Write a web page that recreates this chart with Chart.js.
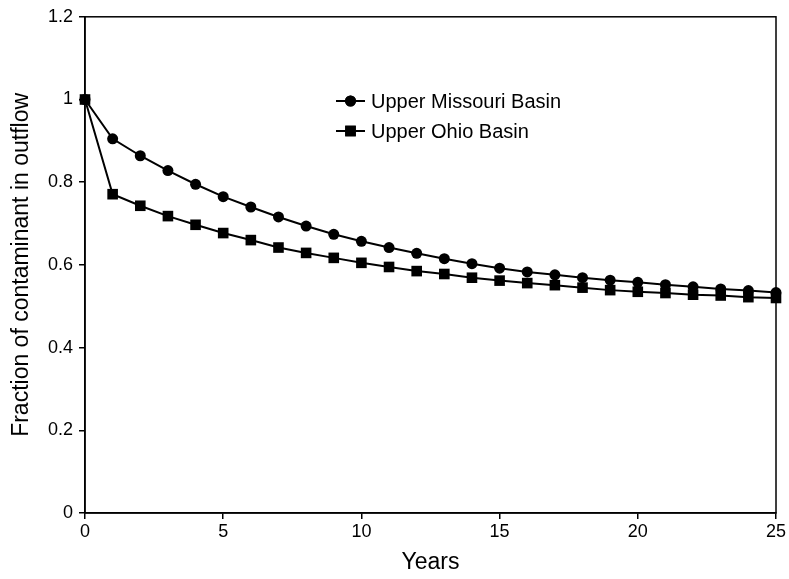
<!DOCTYPE html>
<html>
<head>
<meta charset="utf-8">
<script src="https://cdn.jsdelivr.net/npm/chart.js@4"></script>
<style>
  html, body { margin: 0; padding: 0; background: #fff; }
  #wrap { width: 789px; height: 579px; }
</style>
</head>
<body>
<div id="wrap"><canvas id="chart" width="789" height="579"></canvas></div>
<script>
// ---- data ----
const years = [0, 1, 2, 3, 4, 5, 6, 7, 8, 9, 10, 11, 12, 13, 14, 15, 16, 17, 18, 19, 20, 21, 22, 23, 24, 25];
const missouri = [1, 0.905, 0.864, 0.828, 0.795, 0.765, 0.740, 0.716, 0.694, 0.674, 0.657, 0.642, 0.628,
  0.615, 0.603, 0.592, 0.583, 0.576, 0.569, 0.563, 0.558, 0.552, 0.547, 0.542, 0.538, 0.533];
const ohio = [1, 0.771, 0.743, 0.718, 0.697, 0.677, 0.660, 0.642, 0.629, 0.617, 0.605, 0.595, 0.585,
  0.578, 0.569, 0.562, 0.556, 0.551, 0.545, 0.539, 0.535, 0.532, 0.528, 0.526, 0.522, 0.520];
const seriesLabels = ['Upper Missouri Basin', 'Upper Ohio Basin'];
const xTickLabels = ['0', '5', '10', '15', '20', '25'];
const yTickLabels = ['0', '0.2', '0.4', '0.6', '0.8', '1', '1.2'];

const FONT = "'Liberation Sans', Arial, sans-serif";

// box round the plot area (top + right edges)
const frame = {
  id: 'frame',
  beforeDatasetsDraw(chart) {
    const { ctx, chartArea: a } = chart;
    ctx.save();
    ctx.strokeStyle = '#000';
    ctx.lineWidth = 1.5;
    ctx.strokeRect(a.left, a.top, a.right - a.left, a.bottom - a.top);
    ctx.restore();
  }
};

// legend drawn inside the plot, like the original
const insideLegend = {
  id: 'insideLegend',
  afterDatasetsDraw(chart) {
    const { ctx } = chart;
    const x0 = 336, x1 = 365, tx = 371;
    const rows = [101, 131];
    ctx.save();
    chart.data.datasets.forEach((ds, i) => {
      const y = rows[i];
      ctx.strokeStyle = '#000';
      ctx.lineWidth = 2;
      ctx.beginPath();
      ctx.moveTo(x0, y);
      ctx.lineTo(x1, y);
      ctx.stroke();
      ctx.fillStyle = '#000';
      Chart.helpers.drawPoint(ctx, { pointStyle: ds.pointStyle, radius: ds.pointRadius, borderWidth: 0 }, (x0 + x1) / 2, y);
      ctx.fill();
      ctx.font = '20px ' + FONT;
      ctx.textBaseline = 'middle';
      ctx.fillText(ds.label, tx, y + 1);
    });
    ctx.restore();
  }
};

const ctx = document.getElementById('chart').getContext('2d');
new Chart(ctx, {
  type: 'line',
  data: {
    labels: years,
    datasets: [
      {
        label: seriesLabels[0],
        data: years.map((x, i) => ({ x, y: missouri[i] })),
        borderColor: '#000',
        backgroundColor: '#000',
        borderWidth: 2,
        pointStyle: 'circle',
        pointRadius: 5.5,
        pointBorderWidth: 0,
        tension: 0,
        clip: false,
      },
      {
        label: seriesLabels[1],
        data: years.map((x, i) => ({ x, y: ohio[i] })),
        borderColor: '#000',
        backgroundColor: '#000',
        borderWidth: 2,
        pointStyle: 'rect',
        pointRadius: 7.5,
        pointBorderWidth: 0,
        tension: 0,
        clip: false,
      }
    ]
  },
  options: {
    responsive: false,
    animation: false,
    layout: { padding: { left: 0, right: 13, top: 13, bottom: 0 } },
    scales: {
      x: {
        type: 'linear',
        min: 0,
        max: 25,
        afterFit: s => { s.height = 66; },
        grid: { drawOnChartArea: false, color: '#000', tickLength: 6, lineWidth: 1.5 },
        border: { color: '#000', width: 1.5 },
        ticks: {
          stepSize: 5,
          color: '#000',
          padding: 2,
          maxRotation: 0,
          font: { family: FONT, size: 18 },
          callback: (v) => xTickLabels[xTickLabels.indexOf(String(v))] ?? ''
        },
        title: {
          display: true,
          text: 'Years',
          color: '#000',
          padding: { top: 0, bottom: 3 },
          font: { family: FONT, size: 23 }
        }
      },
      y: {
        min: 0,
        max: 1.2,
        afterFit: s => { s.width = 85; },
        grid: { drawOnChartArea: false, color: '#000', tickLength: 6, lineWidth: 1.5 },
        border: { color: '#000', width: 1.5 },
        ticks: {
          stepSize: 0.2,
          color: '#000',
          padding: 6,
          font: { family: FONT, size: 18 },
          callback: (v) => yTickLabels[Math.round(v / 0.2)]
        },
        title: {
          display: true,
          text: 'Fraction of contaminant in outflow',
          color: '#000',
          padding: { top: 8, bottom: 0 },
          font: { family: FONT, size: 23 }
        }
      }
    },
    plugins: {
      legend: { display: false },
      tooltip: { enabled: false }
    }
  },
  plugins: [frame, insideLegend]
});
</script>
</body>
</html>
